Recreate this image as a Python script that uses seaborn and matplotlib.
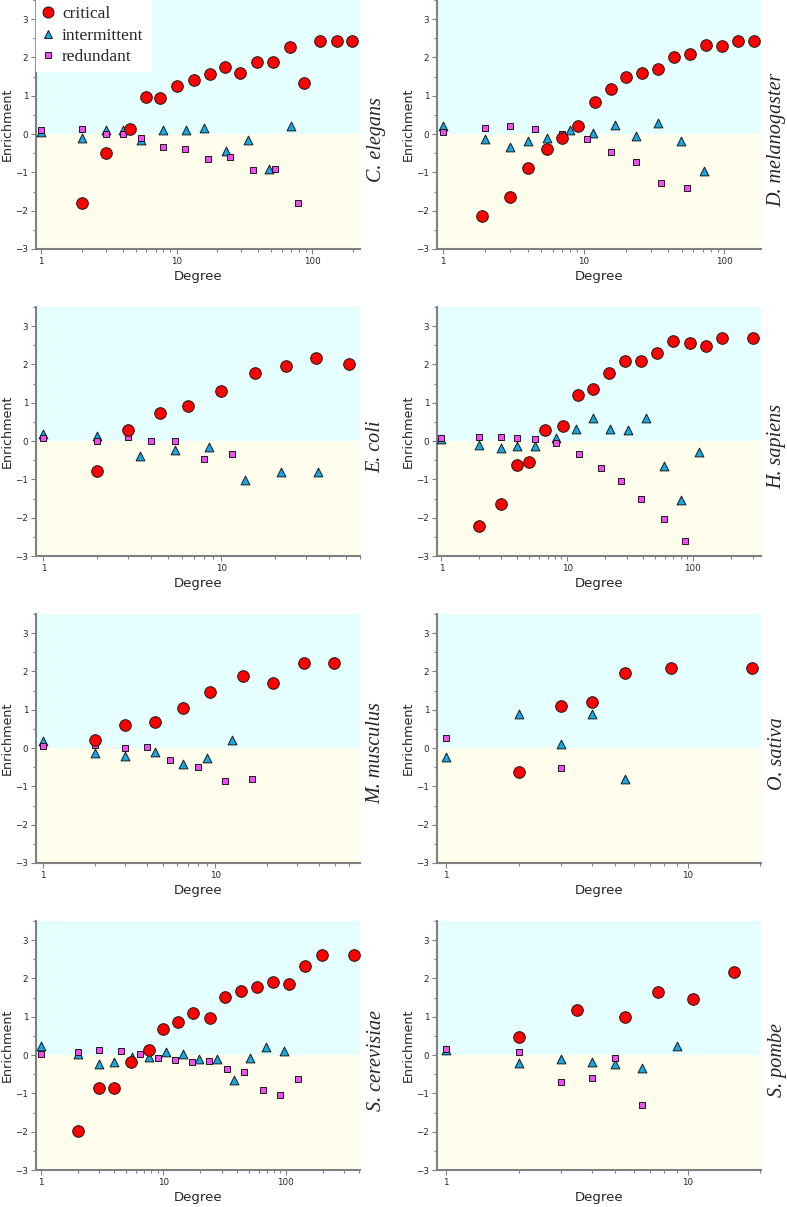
import numpy as np
import pandas as pd
import matplotlib
matplotlib.use('agg')
import matplotlib.pyplot as plt
import seaborn as sns
from matplotlib.ticker import FixedLocator, FixedFormatter, NullFormatter, MultipleLocator
from matplotlib.lines import Line2D

# ---- data (degree, enrichment) ----
ce_crit_k = [2, 3, 4.5, 6, 7.5, 10, 13.5, 17.5, 22.6, 29.5, 39, 51, 68, 87, 115, 151, 198]
ce_crit_e = [-1.80, -0.50, 0.12, 0.97, 0.95, 1.26, 1.41, 1.58, 1.74, 1.60, 1.88, 1.89, 2.28, 1.33, 2.43, 2.43, 2.43]
ce_int_k = [1, 2, 3, 4, 5.5, 8, 11.7, 16, 23, 33.6, 48, 70]
ce_int_e = [0.06, -0.09, 0.10, 0.10, -0.15, 0.10, 0.10, 0.16, -0.43, -0.15, -0.90, 0.20]
ce_red_k = [1, 2, 3, 4, 5.5, 8, 11.5, 17, 24.8, 36.6, 53, 78]
ce_red_e = [0.10, 0.13, 0.01, -0.01, -0.09, -0.34, -0.40, -0.66, -0.61, -0.94, -0.91, -1.81]

dm_crit_k = [1.9, 3, 4, 5.5, 7, 9.1, 12.1, 15.6, 20, 26, 34, 44, 57, 74, 96, 125, 161]
dm_crit_e = [-2.13, -1.64, -0.89, -0.39, -0.10, 0.22, 0.85, 1.17, 1.48, 1.59, 1.69, 2.02, 2.10, 2.32, 2.30, 2.44, 2.44]
dm_int_k = [1, 2, 3, 4, 5.5, 8, 11.6, 16.6, 23.7, 34, 49, 72]
dm_int_e = [0.20, -0.14, -0.33, -0.18, -0.11, 0.11, 0.04, 0.25, -0.05, 0.29, -0.17, -0.96]
dm_red_k = [1, 2, 3, 4.5, 7, 10.5, 15.6, 23.7, 35.6, 54]
dm_red_e = [0.05, 0.17, 0.20, 0.13, 0.00, -0.12, -0.46, -0.72, -1.28, -1.42]

ec_crit_k = [2, 3, 4.5, 6.5, 10, 15.4, 23, 34, 52]
ec_crit_e = [-0.77, 0.30, 0.72, 0.91, 1.32, 1.79, 1.96, 2.18, 2.00]
ec_int_k = [1, 2, 3.5, 5.5, 8.5, 13.5, 21.5, 35]
ec_int_e = [0.18, 0.14, -0.38, -0.22, -0.16, -1.02, -0.80, -0.80]
ec_red_k = [1, 2, 3, 4, 5.5, 8, 11.4]
ec_red_e = [0.09, 0.01, 0.10, 0.00, 0.01, -0.46, -0.33]

hs_crit_k = [2, 3, 4, 5, 6.7, 9.2, 12.2, 16, 21.4, 28.6, 38.8, 52, 70, 94, 126, 169, 300]
hs_crit_e = [-2.22, -1.64, -0.63, -0.55, 0.28, 0.40, 1.19, 1.36, 1.77, 2.10, 2.10, 2.30, 2.60, 2.57, 2.48, 2.70, 2.70]
hs_int_k = [1, 2, 3, 4, 5.6, 8.2, 11.8, 16.2, 21.9, 30.7, 42.4, 58.5, 81, 112]
hs_int_e = [0.05, -0.11, -0.17, -0.12, -0.14, 0.08, 0.32, 0.60, 0.31, 0.29, 0.60, -0.65, -1.55, -0.28]
hs_red_k = [1, 2, 3, 4, 5.6, 8.2, 12.4, 18.5, 27, 39, 58.7, 86]
hs_red_e = [0.08, 0.11, 0.11, 0.08, 0.05, -0.06, -0.33, -0.70, -1.05, -1.52, -2.03, -2.60]

mm_crit_k = [2, 3, 4.5, 6.5, 9.4, 14.5, 21.8, 32.7, 49]
mm_crit_e = [0.20, 0.59, 0.68, 1.04, 1.46, 1.89, 1.70, 2.22, 2.22]
mm_int_k = [1, 2, 3, 4.5, 6.5, 9, 12.6]
mm_int_e = [0.18, -0.14, -0.20, -0.10, -0.42, -0.26, 0.21]
mm_red_k = [1, 2, 3, 4, 5.5, 7.9, 11.4, 16.4]
mm_red_e = [0.06, 0.09, 0.01, 0.04, -0.32, -0.50, -0.87, -0.80]

os_crit_k = [2, 3, 4, 5.5, 8.5, 18.5]
os_crit_e = [-0.62, 1.09, 1.19, 1.97, 2.10, 2.10]
os_int_k = [1, 2, 3, 4, 5.5]
os_int_e = [-0.23, 0.88, 0.10, 0.88, -0.81]
os_red_k = [1, 3]
os_red_e = [0.26, -0.53]

sc_crit_k = [2, 3, 4, 5.5, 7.6, 10, 13.1, 17.4, 24, 32, 43, 58, 79, 107, 145, 196, 359]
sc_crit_e = [-1.97, -0.85, -0.85, -0.17, 0.14, 0.69, 0.87, 1.10, 0.97, 1.51, 1.68, 1.77, 1.91, 1.86, 2.33, 2.62, 2.62]
sc_int_k = [1, 2, 3, 4, 5.6, 7.6, 10.6, 14.6, 19.7, 27.4, 37.6, 51, 69.5, 96]
sc_int_e = [0.24, 0.03, -0.24, -0.19, -0.06, -0.05, 0.07, 0.02, -0.10, -0.10, -0.66, -0.08, 0.21, 0.10]
sc_red_k = [1, 2, 3, 4.5, 6.5, 9, 12.5, 17.1, 23.7, 33.2, 46, 65, 90, 127]
sc_red_e = [0.02, 0.08, 0.14, 0.10, 0.02, -0.08, -0.13, -0.17, -0.16, -0.37, -0.44, -0.90, -1.03, -0.62]

sp_crit_k = [2, 3.5, 5.5, 7.5, 10.5, 15.6]
sp_crit_e = [0.47, 1.18, 0.99, 1.65, 1.47, 2.17]
sp_int_k = [1, 2, 3, 4, 5, 6.5, 9]
sp_int_e = [0.13, -0.21, -0.09, -0.19, -0.23, -0.35, 0.24]
sp_red_k = [1, 2, 3, 4, 5, 6.5]
sp_red_e = [0.16, 0.08, -0.70, -0.60, -0.08, -1.30]

species = ['C. elegans', 'D. melanogaster', 'E. coli', 'H. sapiens',
           'M. musculus', 'O. sativa', 'S. cerevisiae', 'S. pombe']
series = {
    'C. elegans': (ce_int_k, ce_int_e, ce_red_k, ce_red_e, ce_crit_k, ce_crit_e),
    'D. melanogaster': (dm_int_k, dm_int_e, dm_red_k, dm_red_e, dm_crit_k, dm_crit_e),
    'E. coli': (ec_int_k, ec_int_e, ec_red_k, ec_red_e, ec_crit_k, ec_crit_e),
    'H. sapiens': (hs_int_k, hs_int_e, hs_red_k, hs_red_e, hs_crit_k, hs_crit_e),
    'M. musculus': (mm_int_k, mm_int_e, mm_red_k, mm_red_e, mm_crit_k, mm_crit_e),
    'O. sativa': (os_int_k, os_int_e, os_red_k, os_red_e, os_crit_k, os_crit_e),
    'S. cerevisiae': (sc_int_k, sc_int_e, sc_red_k, sc_red_e, sc_crit_k, sc_crit_e),
    'S. pombe': (sp_int_k, sp_int_e, sp_red_k, sp_red_e, sp_crit_k, sp_crit_e),
}
xlims = {
    'C. elegans': (0.92, 225), 'D. melanogaster': (0.906, 182),
    'E. coli': (0.91, 60), 'H. sapiens': (0.923, 348),
    'M. musculus': (0.91, 69.5), 'O. sativa': (0.918, 20.1),
    'S. cerevisiae': (0.916, 404), 'S. pombe': (0.918, 20.1),
}

# marker styles, drawn in this order (triangles under squares under circles)
styles = [
    ('intermittent', '^', '#16A8E4', 40),
    ('redundant', 's', '#F24CF2', 20),
    ('critical', 'o', '#FF0000', 70),
]

sns.set_style('ticks')
plt.rcParams['font.family'] = ['DejaVu Sans']
plt.rcParams['axes.unicode_minus'] = True

fig = plt.figure(figsize=(7.87, 12.07), dpi=100)
W, H = 787.0, 1207.0
col_left = [36, 437]
row_top = [0, 307, 614, 921]
aw, ah = 324, 249
grey = '#808080'

for i, sp in enumerate(species):
    r, c = divmod(i, 2)
    ax = fig.add_axes([col_left[c] / W, 1 - (row_top[r] + ah) / H, aw / W, ah / H])
    ax.set_facecolor('white')
    ax.axhspan(0, 3.5, color='#E4FFFE', lw=0, zorder=0)
    ax.axhspan(-3, 0, color='#FFFEEC', lw=0, zorder=0)

    vals = series[sp]
    for j, (name, mk, col, size) in enumerate(styles):
        df = pd.DataFrame({'Degree': vals[2 * j], 'Enrichment': vals[2 * j + 1]})
        sns.scatterplot(data=df, x='Degree', y='Enrichment', ax=ax, marker=mk,
                        color=col, s=size, edgecolor='#1a1a1a', linewidth=0.7,
                        zorder=3 + j, legend=False)

    ax.set_xscale('log')
    ax.set_xlim(*xlims[sp])
    ax.set_ylim(-3, 3.5)
    ax.xaxis.set_major_locator(FixedLocator([1, 10, 100]))
    ax.xaxis.set_major_formatter(FixedFormatter(['1', '10', '100']))
    minors = [m * d for d in (1, 10, 100) for m in range(2, 10)]
    ax.xaxis.set_minor_locator(FixedLocator(minors))
    ax.xaxis.set_minor_formatter(NullFormatter())
    ax.yaxis.set_major_locator(MultipleLocator(1))
    ax.yaxis.set_minor_locator(MultipleLocator(0.5))

    for s in ('top', 'right'):
        ax.spines[s].set_visible(False)
    for s in ('left', 'bottom'):
        ax.spines[s].set_color(grey)
        ax.spines[s].set_linewidth(1.5)
    ax.tick_params(which='major', direction='out', length=3.6, width=0.8,
                   color=grey, labelsize=6.3, pad=2)
    ax.tick_params(which='minor', direction='out', length=2, width=0.8, color=grey)

    ax.set_xlabel('Degree', fontsize=9.5, labelpad=3)
    ax.set_ylabel('Enrichment', fontsize=9.2)
    ax.yaxis.set_label_coords(-0.068, 0.5)

    ax.text(1.05, 0.44, sp, transform=ax.transAxes, rotation=90,
            ha='center', va='center', fontsize=14.5, fontstyle='italic',
            family=['Liberation Serif', 'DejaVu Serif'])

    if i == 0:
        handles = [Line2D([], [], ls='', marker=mk, markersize=np.sqrt(size) * 0.95,
                          markerfacecolor=col, markeredgecolor='#1a1a1a',
                          markeredgewidth=0.7)
                   for (name, mk, col, size) in [styles[2], styles[0], styles[1]]]
        leg = ax.legend(handles, ['critical', 'intermittent', 'redundant'],
                        loc='upper left', borderaxespad=0, frameon=True,
                        fancybox=False, framealpha=1, edgecolor='white',
                        facecolor='white', handlelength=0.7, handletextpad=0.45,
                        labelspacing=0.3, borderpad=0.35,
                        prop={'family': ['Liberation Serif', 'DejaVu Serif'], 'size': 12.5})
        leg.set_zorder(10)

fig.savefig('out.png', dpi=100)
